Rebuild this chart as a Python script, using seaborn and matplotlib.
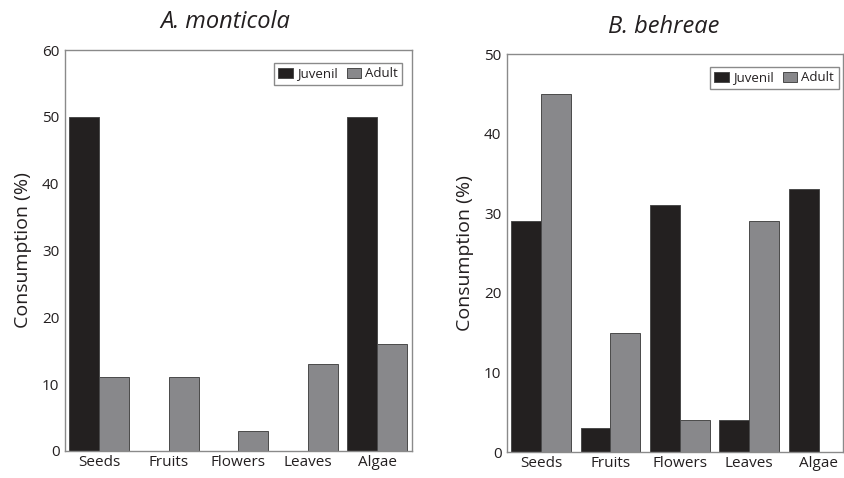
import numpy as np
import pandas as pd
import seaborn as sns
import matplotlib.pyplot as plt

foods = ['Seeds', 'Fruits', 'Flowers', 'Leaves', 'Algae']
stages = ['Juvenil', 'Adult']

monticola_juvenil = [50, 0, 0, 0, 50]
monticola_adult = [11, 11, 3, 13, 16]
behreae_juvenil = [29, 3, 31, 4, 33]
behreae_adult = [45, 15, 4, 29, 0]

colors = {'Juvenil': '#231f20', 'Adult': '#87888c'}


def to_long(juvenil, adult):
    '''
    Builds a long-form table for seaborn from the two series.
    '''
    return pd.DataFrame({
        'food': foods * 2,
        'stage': ['Juvenil'] * len(foods) + ['Adult'] * len(foods),
        'value': list(juvenil) + list(adult),
    })


sns.set_style('white')
plt.rcParams['font.family'] = ['Open Sans', 'DejaVu Sans']
plt.rcParams['text.color'] = '#231f20'

fig = plt.figure(figsize=(8.44, 4.78), dpi=100)
ax1 = fig.add_axes([65 / 844, 1 - 451 / 478, 347 / 844, 401 / 478])
ax2 = fig.add_axes([507 / 844, 1 - 452 / 478, 336 / 844, 398 / 478])

# (axes, data, title, y max, x limits, title x, title baseline y, legend anchor x)
panels = [
    (ax1, to_long(monticola_juvenil, monticola_adult), 'A. monticola', 60, (-0.49, 4.5), 0.461, 1.055, 0.98),
    (ax2, to_long(behreae_juvenil, behreae_adult), 'B. behreae', 50, (-0.49, 4.35), 0.467, 1.053, 0.995),
]

for ax, df, title, ymax, xlim, tx, ty, lx in panels:
    sns.barplot(data=df, x='food', y='value', hue='stage', hue_order=stages,
                order=foods, palette=colors, width=0.86, edgecolor='#4a4a4a',
                linewidth=0.7, ax=ax, legend=True)
    ax.set_ylim(0, ymax)
    ax.set_xlim(*xlim)
    ax.set_yticks(np.arange(0, ymax + 1, 10))
    ax.set_xlabel('')
    ax.set_ylabel('Consumption (%)', fontsize=14, labelpad=7, color='#231f20')
    ax.text(tx, ty, title, transform=ax.transAxes, ha='center', va='baseline',
            fontsize=17, style='italic', color='#231f20')
    ax.tick_params(axis='both', length=0, labelsize=11, colors='#231f20', pad=4)
    ax.tick_params(axis='x', pad=3)
    for spine in ax.spines.values():
        spine.set_color('#8a8a8a')
        spine.set_linewidth(1.0)
        spine.set_visible(True)
    ax.legend(loc='upper right', bbox_to_anchor=(lx, 0.975), ncol=2, fontsize=9.5,
              frameon=True, fancybox=False, edgecolor='#8a8a8a', framealpha=1,
              handlelength=1.1, handleheight=0.8, handletextpad=0.3,
              columnspacing=0.7, borderpad=0.35, borderaxespad=0.2)

fig.savefig('out.png', dpi=100)
